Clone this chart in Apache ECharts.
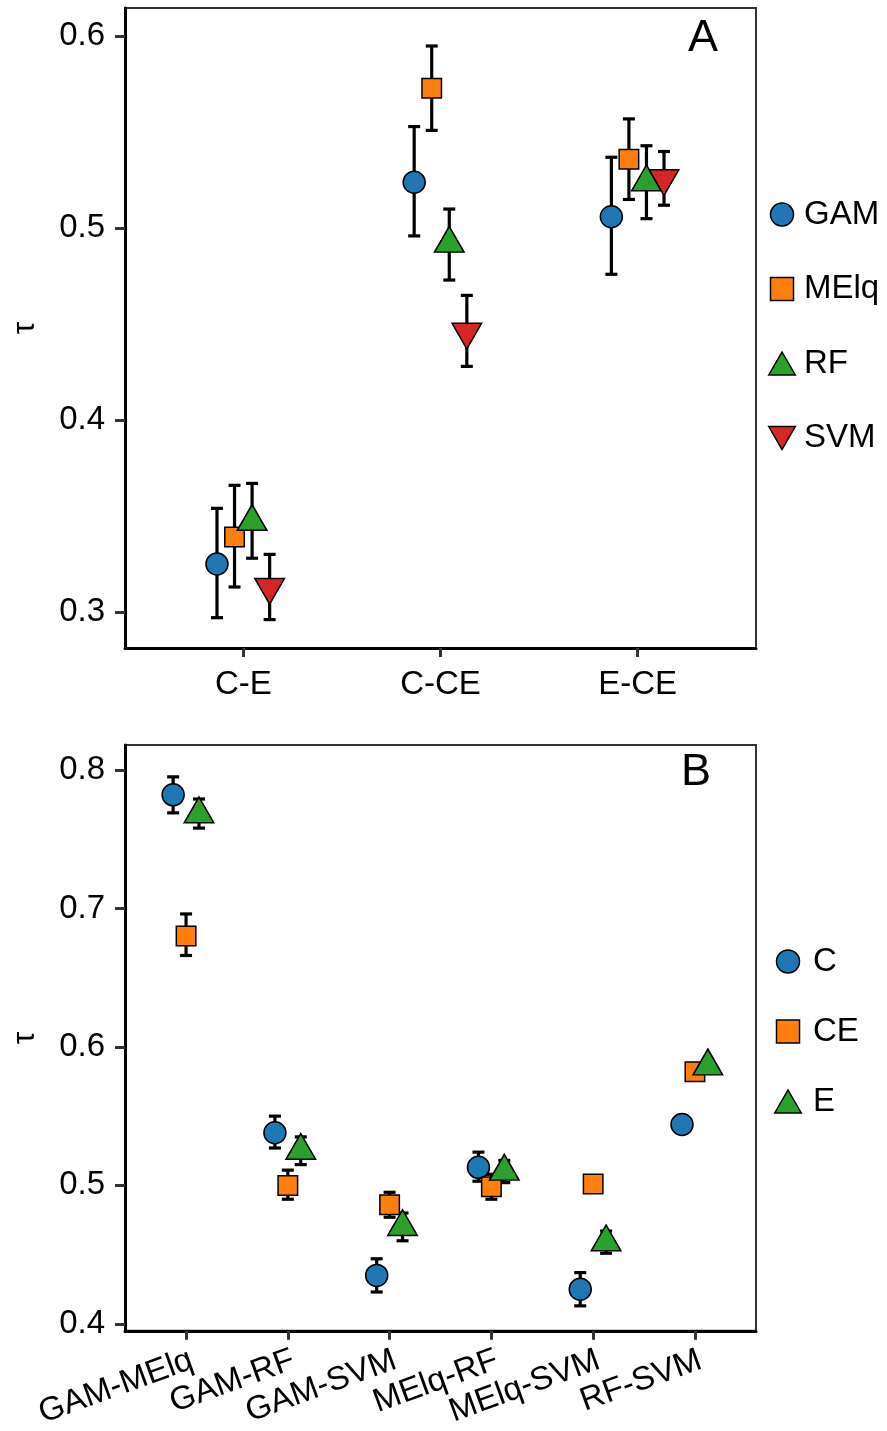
<!DOCTYPE html>
<html><head><meta charset="utf-8">
<script src="https://cdn.jsdelivr.net/npm/echarts@6/dist/echarts.min.js"></script>
<style>html,body{margin:0;padding:0;background:#fff}#c{width:887px;height:1431px}</style>
</head><body><div id="c"></div>
<script>
// ---------- Panel A data ----------
const catsA = ['C-E', 'C-CE', 'E-CE'];
const groupsA = ['GAM', 'MElq', 'RF', 'SVM'];
const ticksA = [0.3, 0.4, 0.5, 0.6];
const gamA    = [0.325, 0.524, 0.506];
const gamA_lo = [0.297, 0.496, 0.476];
const gamA_hi = [0.354, 0.553, 0.537];
const melqA    = [0.339, 0.573, 0.536];
const melqA_lo = [0.313, 0.551, 0.515];
const melqA_hi = [0.366, 0.595, 0.557];
const rfA    = [0.347, 0.492, 0.524];
const rfA_lo = [0.328, 0.473, 0.505];
const rfA_hi = [0.367, 0.510, 0.543];
const svmA    = [0.313, 0.446, 0.526];
const svmA_lo = [0.296, 0.428, 0.512];
const svmA_hi = [0.330, 0.465, 0.540];

// ---------- Panel B data ----------
const catsB = ['GAM-MElq', 'GAM-RF', 'GAM-SVM', 'MElq-RF', 'MElq-SVM', 'RF-SVM'];
const groupsB = ['C', 'CE', 'E'];
const ticksB = [0.4, 0.5, 0.6, 0.7, 0.8];
const cB    = [0.782, 0.538, 0.435, 0.513, 0.425, 0.544];
const cB_lo = [0.769, 0.527, 0.423, 0.503, 0.413, 0.539];
const cB_hi = [0.795, 0.550, 0.447, 0.524, 0.437, 0.549];
const ceB    = [0.680, 0.500, 0.486, 0.499, 0.501, 0.582];
const ceB_lo = [0.666, 0.490, 0.477, 0.490, 0.495, 0.577];
const ceB_hi = [0.696, 0.511, 0.495, 0.508, 0.507, 0.587];
const eB    = [0.768, 0.525, 0.470, 0.510, 0.459, 0.586];
const eB_lo = [0.758, 0.515, 0.460, 0.502, 0.451, 0.581];
const eB_hi = [0.779, 0.535, 0.480, 0.518, 0.467, 0.591];

// ---------- styles ----------
const FONT = 'Liberation Sans';
const BLUE = '#1f77b4', ORANGE = '#ff7f0e', GREEN = '#2ca02c', RED = '#d62728';
const DOWN_TRI = 'path://M0,0 L30,0 L15,26 Z';
const UP_TRI = 'path://M15,0 L30,26 L0,26 Z';
const SQUARE = 'path://M0,0 L10,0 L10,10 L0,10 Z';
const shapeCircle = { symbol: 'circle', symbolSize: 22, symbolOffset: [0, 0] };
const shapeSquare = { symbol: 'rect', symbolSize: 19.5, symbolOffset: [0, 0] };
const shapeUp = { symbol: 'triangle', symbolSize: [29.6, 25.7], symbolOffset: [0, -4.3] };
const shapeDown = { symbol: DOWN_TRI, symbolSize: [29.6, 25.7], symbolOffset: [0, 4.3] };

const seriesA = [
  { name: 'GAM', m: gamA, lo: gamA_lo, hi: gamA_hi, color: BLUE, shape: shapeCircle, icon: 'circle' },
  { name: 'MElq', m: melqA, lo: melqA_lo, hi: melqA_hi, color: ORANGE, shape: shapeSquare, icon: SQUARE },
  { name: 'RF', m: rfA, lo: rfA_lo, hi: rfA_hi, color: GREEN, shape: shapeUp, icon: UP_TRI },
  { name: 'SVM', m: svmA, lo: svmA_lo, hi: svmA_hi, color: RED, shape: shapeDown, icon: DOWN_TRI }
];
const seriesB = [
  { name: 'C', m: cB, lo: cB_lo, hi: cB_hi, color: BLUE, shape: shapeCircle, icon: 'circle' },
  { name: 'CE', m: ceB, lo: ceB_lo, hi: ceB_hi, color: ORANGE, shape: shapeSquare, icon: SQUARE },
  { name: 'E', m: eB, lo: eB_lo, hi: eB_hi, color: GREEN, shape: shapeUp, icon: UP_TRI }
];
const dodgeA = 0.089, dodgeB = 0.127;

function errRender(params, api) {
  const x = api.value(0), lo = api.value(1), hi = api.value(2);
  const a = api.coord([x, lo]), b = api.coord([x, hi]);
  const cap = 6;
  const style = { stroke: '#000', lineWidth: 3.2 };
  return { type: 'group', children: [
    { type: 'line', shape: { x1: a[0], y1: a[1], x2: b[0], y2: b[1] }, style },
    { type: 'line', shape: { x1: a[0] - cap, y1: a[1], x2: a[0] + cap, y2: a[1] }, style },
    { type: 'line', shape: { x1: b[0] - cap, y1: b[1], x2: b[0] + cap, y2: b[1] }, style }
  ]};
}

function buildSeries(defs, gridIdx, dodge) {
  const out = [];
  const n = defs.length;
  defs.forEach((d, k) => {
    const off = (k - (n - 1) / 2) * dodge;
    out.push({
      name: d.name + ' error', type: 'custom', xAxisIndex: gridIdx, yAxisIndex: gridIdx,
      renderItem: errRender, z: 2, silent: true,
      encode: { x: 0, y: [1, 2] },
      data: d.m.map((v, i) => [i + 1 + off, d.lo[i], d.hi[i]])
    });
  });
  defs.forEach((d, k) => {
    const off = (k - (n - 1) / 2) * dodge;
    out.push(Object.assign({
      name: d.name, type: 'scatter', xAxisIndex: gridIdx, yAxisIndex: gridIdx, z: 3,
      itemStyle: { color: d.color, borderColor: '#000', borderWidth: 1.5, opacity: 1 },
      data: d.m.map((v, i) => [i + 1 + off, v])
    }, d.shape));
  });
  return out;
}

function xAxisDef(gridIdx, cats, rotate, margin, vAlign) {
  const pos = cats.map((c, i) => i + 1);
  const label = { show: true, customValues: pos, formatter: v => cats[Math.round(v) - 1], rotate: rotate,
      fontSize: 33, color: '#000', fontFamily: FONT, margin: margin };
  if (vAlign) { label.verticalAlign = vAlign; label.align = 'right'; }
  return {
    gridIndex: gridIdx, type: 'value', min: 0.4, max: cats.length + 0.6,
    axisLine: { show: true, onZero: false, lineStyle: { color: '#000', width: 3 } },
    axisTick: { show: true, customValues: pos, length: 9, lineStyle: { color: '#333', width: 3 } },
    axisLabel: label,
    splitLine: { show: false }
  };
}
function yAxisDef(gridIdx, ticks, min, max) {
  return {
    gridIndex: gridIdx, type: 'value', min: min, max: max,
    name: 'τ', nameLocation: 'middle', nameGap: 84,
    nameTextStyle: { fontSize: 32, color: '#000', fontFamily: FONT },
    axisLine: { show: true, lineStyle: { color: '#000', width: 3 } },
    axisTick: { show: true, customValues: ticks, length: 10, lineStyle: { color: '#333', width: 3 } },
    axisLabel: { show: true, customValues: ticks, formatter: v => v.toFixed(1),
      fontSize: 33, color: '#000', fontFamily: FONT, margin: 20 },
    splitLine: { show: false }
  };
}
function legendDef(defs, left, top, gap, textPad) {
  return {
    data: defs.map(d => ({ name: d.name, icon: d.icon,
      itemStyle: { color: d.color, borderColor: '#000', borderWidth: 1.5 } })),
    orient: 'vertical', left: left, top: top, padding: 0, itemWidth: 30, itemHeight: 23, itemGap: gap,
    selectedMode: false,
    textStyle: { fontSize: 33, color: '#000', fontFamily: FONT, padding: [0, 0, 0, textPad] }
  };
}

const chart = echarts.init(document.getElementById('c'), null, { renderer: 'canvas' });
chart.setOption({
  animation: false,
  backgroundColor: '#fff',
  textStyle: { fontFamily: FONT },
  grid: [
    { left: 125, top: 8, width: 631, height: 640, show: true, borderColor: '#333', borderWidth: 2, backgroundColor: 'transparent' },
    { left: 125, top: 745, width: 631, height: 589, show: true, borderColor: '#333', borderWidth: 2, backgroundColor: 'transparent' }
  ],
  xAxis: [xAxisDef(0, catsA, 0, 20, null), xAxisDef(1, catsB, 20, 13, 'top')],
  yAxis: [yAxisDef(0, ticksA, 0.2812, 0.6148), yAxisDef(1, ticksB, 0.395, 0.818)],
  legend: [legendDef(seriesA, 768, 198, 41.5, 2), legendDef(seriesB, 774, 945, 37, 5)],
  graphic: [
    { type: 'text', x: 703, y: 39, style: { text: 'A', align: 'center', verticalAlign: 'middle', fontSize: 45, fontFamily: FONT, fill: '#000' } },
    { type: 'text', x: 696, y: 773, style: { text: 'B', align: 'center', verticalAlign: 'middle', fontSize: 45, fontFamily: FONT, fill: '#000' } }
  ],
  series: buildSeries(seriesA, 0, dodgeA).concat(buildSeries(seriesB, 1, dodgeB))
});
</script>
</body></html>
